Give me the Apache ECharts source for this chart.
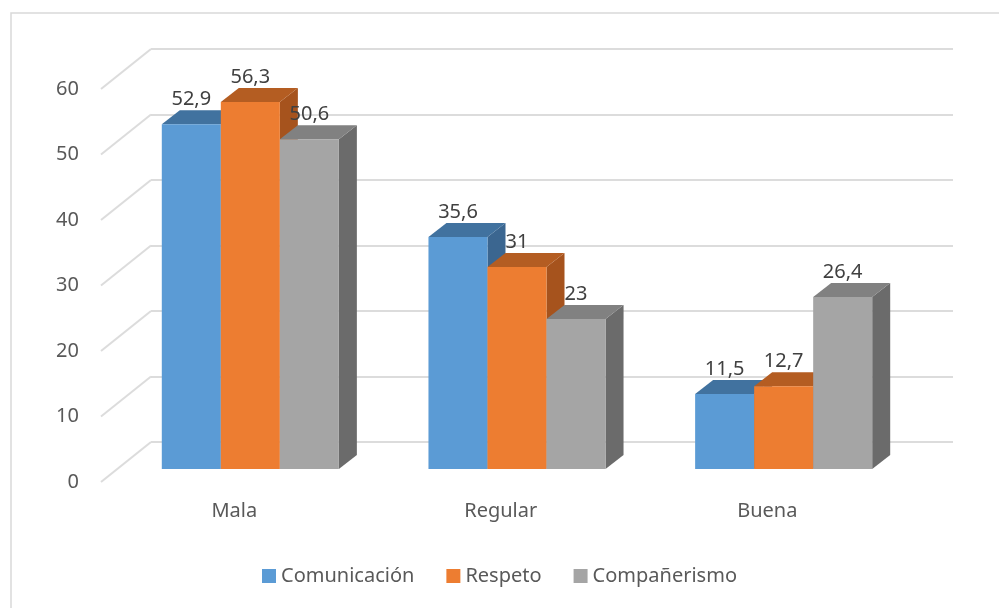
<!DOCTYPE html>
<html>
<head>
<meta charset="utf-8">
<script src="https://cdn.jsdelivr.net/npm/echarts@6/dist/echarts.min.js"></script>
<style>
html, body { margin: 0; padding: 0; background: #fff; }
#main { width: 999px; height: 608px; }
</style>
</head>
<body>
<div id="main"></div>
<script>
// data
const categories = ['Mala', 'Regular', 'Buena'];
const seriesNames = ['Comunicación', 'Respeto', 'Compañerismo'];
const comunicacion = [52.9, 35.6, 11.5];
const respeto = [56.3, 31, 12.7];
const companerismo = [50.6, 23, 26.4];
const yTicks = [0, 10, 20, 30, 40, 50, 60];

const FONT = '"Noto Sans", "Open Sans", sans-serif';
const FS = 20;
const faces = [
  { front: '#5B9BD5', top: '#41729F', side: '#3B6690' },
  { front: '#ED7D31', top: '#B45D22', side: '#A6531D' },
  { front: '#A5A5A5', top: '#818181', side: '#6B6B6B' }
];
const DX = 18, DY = -14;   // depth of a bar
const WX = 50, WY = -40;   // depth of the side wall
const gridColor = '#DCDCDC';

function fmt (v) {
  return String(v).replace('.', ',')
}

function barItem (si) {
  const c = faces[si]
  return function (params, api) {
    const ci = api.value(0)
    const v = api.value(1)
    const base = api.coord([ci, 0])
    const top = api.coord([ci, v])
    const band = api.size([1, 0])[0]
    const group = band * 0.664
    const w = group / 3
    const x0 = base[0] - group / 2 + si * w
    const x1 = x0 + w
    const y0 = base[1]
    const y1 = top[1]
    return {
      type: 'group',
      children: [
        { type: 'polygon', shape: { points: [[x1, y0], [x1 + DX, y0 + DY], [x1 + DX, y1 + DY], [x1, y1]] }, style: { fill: c.side } },
        { type: 'polygon', shape: { points: [[x0, y1], [x0 + DX, y1 + DY], [x1 + DX, y1 + DY], [x1, y1]] }, style: { fill: c.top } },
        { type: 'rect', shape: { x: x0, y: y1, width: w, height: y0 - y1 }, style: { fill: c.front } },
        { type: 'text', z2: 100, style: { text: fmt(v), x: (x0 + x1) / 2, y: y1 + DY - 1, align: 'center', verticalAlign: 'bottom', fill: '#404040', font: FS + 'px ' + FONT } }
      ]
    }
  }
}

function wallItem (params, api) {
  const p = api.coord([0, api.value(1)])
  const left = p[0] - api.size([1, 0])[0] / 2
  return {
    type: 'line',
    shape: { x1: left, y1: p[1], x2: left + WX, y2: p[1] + WY },
    style: { stroke: gridColor, lineWidth: 2 }
  }
}

const allValues = [comunicacion, respeto, companerismo]
const yMin = yTicks[0]
const yMax = yTicks[yTicks.length - 1]
const yStep = yTicks[1] - yTicks[0]

const option = {
  animation: false,
  backgroundColor: '#fff',
  textStyle: { fontFamily: FONT },
  graphic: [{
    type: 'rect',
    z: -10,
    shape: { x: 11, y: 13, width: 1000, height: 610 },
    style: { fill: 'none', stroke: '#D9D9D9', lineWidth: 1.5 }
  }],
  legend: {
    data: seriesNames,
    left: 'center',
    top: 561,
    icon: 'rect',
    itemWidth: 14,
    itemHeight: 14,
    itemGap: 32,
    textStyle: { fontSize: FS, color: '#595959', fontFamily: FONT }
  },
  grid: [
    { left: 117, right: 82, top: 78, bottom: 139 },
    { left: 101, right: 98.5, top: 89, bottom: 126 },
    { left: 151, right: 46, top: 49, bottom: 166 }
  ],
  xAxis: [
    { gridIndex: 0, type: 'category', data: categories, show: false },
    {
      gridIndex: 1, type: 'category', data: categories,
      axisLine: { show: false }, axisTick: { show: false },
      axisLabel: { margin: 19, fontSize: FS, color: '#595959', fontFamily: FONT }
    },
    { gridIndex: 2, type: 'category', data: categories, show: false }
  ],
  yAxis: [
    { gridIndex: 0, type: 'value', min: yMin, max: yMax, interval: yStep, show: false },
    {
      gridIndex: 1, type: 'value', min: yMin, max: yMax, interval: yStep,
      axisLine: { show: false }, axisTick: { show: false }, splitLine: { show: false },
      axisLabel: { margin: 22, fontSize: FS, color: '#595959', fontFamily: FONT }
    },
    {
      gridIndex: 2, type: 'value', min: yMin, max: yMax, interval: yStep,
      axisLine: { show: false }, axisTick: { show: false }, axisLabel: { show: false },
      splitLine: { lineStyle: { color: gridColor, width: 2 } }
    }
  ],
  series: [
    {
      type: 'custom', name: 'wall', xAxisIndex: 1, yAxisIndex: 1,
      renderItem: wallItem, silent: true,
      data: yTicks.map(t => [0, t])
    }
  ].concat(seriesNames.map((name, si) => ({
    type: 'custom',
    name: name,
    xAxisIndex: 0,
    yAxisIndex: 0,
    itemStyle: { color: faces[si].front },
    renderItem: barItem(si),
    data: allValues[si].map((v, i) => [i, v])
  })))
}

const chart = echarts.init(document.getElementById('main'))
chart.setOption(option)
</script>
</body>
</html>
